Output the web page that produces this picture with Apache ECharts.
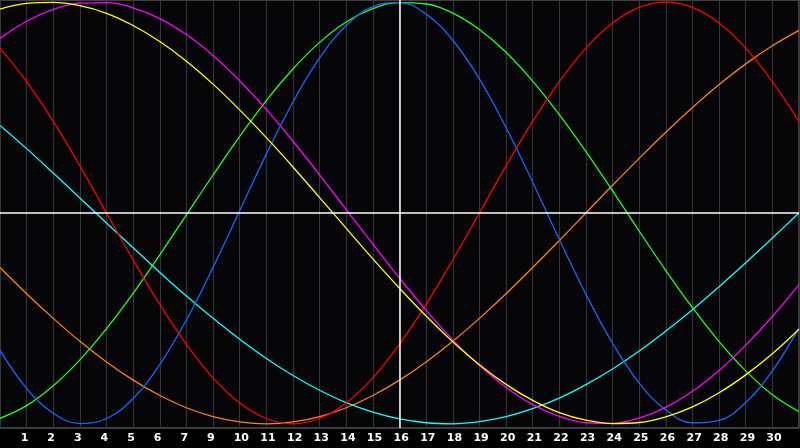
<!DOCTYPE html>
<html>
<head>
<meta charset="utf-8">
<script src="https://cdn.jsdelivr.net/npm/echarts@6/dist/echarts.min.js"></script>
<style>
html,body{margin:0;padding:0;background:#000;}
#c{width:800px;height:448px;}
</style>
</head>
<body>
<div id="c"></div>
<script>
// x positions (slots) where values were read
const slots = [0,1,2,3,4,5,6,7,8,9,10,11,12,13,14,15,16,17,18,19,20,21,22,23,24,25,26,27,28,29,30];
// tick labels (day numbers) shown at slots 1..29
const tickSlots = [1,2,3,4,5,6,7,8,9,10,11,12,13,14,15,16,17,18,19,20,21,22,23,24,25,26,27,28,29];
const tickLabels = ["1","2","3","4","5","6","7","9","10","11","12","13","14","15","16","17","18","19","20","21","22","23","24","25","26","27","28","29","30"];
const todaySlot = 15;

const red     = [78.2,62.3,43.4,22.3,0,-22.3,-43.4,-62.3,-78.2,-90.1,-97.5,-100,-97.5,-90.1,-78.2,-62.3,-43.4,-22.3,0,22.3,43.4,62.3,78.2,90.1,97.5,100,97.5,90.1,78.2,62.3,43.4];
const green   = [-97.4,-91.4,-82.0,-69.7,-54.9,-38.1,-19.9,-0.9,18.0,36.3,53.3,68.3,80.9,90.6,96.9,99.8,99.1,94.8,87.0,76.2,62.5,46.6,29.1,10.5,-8.6,-27.3,-44.9,-61.0,-74.9,-86.2,-94.2];
const blue    = [-65.2,-83.2,-95.0,-99.9,-97.5,-88.0,-71.9,-50.7,-25.8,1.1,27.9,52.6,73.5,88.9,97.9,99.8,94.3,81.9,63.6,40.5,14.6,-12.5,-38.6,-61.8,-80.7,-93.5,-99.6,-98.4,-89.9,-74.9,-54.5];
const cyan    = [41.5,30.5,18.9,7.1,-4.8,-16.5,-28.2,-39.4,-50.0,-59.9,-69.0,-77.1,-84.1,-90.0,-94.5,-97.7,-99.5,-100,-99.0,-96.6,-92.8,-87.8,-81.4,-74.0,-65.5,-56.0,-45.9,-35.0,-23.6,-11.9,0];
const magenta = [82.8,90.9,96.5,99.5,99.8,97.3,92.2,84.6,74.7,62.7,49.1,34.0,18.1,1.6,-14.8,-30.9,-46.2,-60.2,-72.4,-82.8,-90.9,-96.5,-99.5,-99.8,-97.3,-92.2,-84.6,-74.7,-62.7,-49.1,-34.0];
const yellow  = [96.7,99.4,99.9,98.3,94.7,88.9,81.3,72.0,61.1,48.9,35.7,21.8,7.3,-7.3,-21.8,-35.7,-48.9,-61.1,-72.0,-81.3,-88.9,-94.7,-98.3,-99.9,-99.4,-96.7,-92.0,-85.3,-76.8,-66.8,-55.2];
const orange  = [-25.9,-38.3,-50.0,-60.9,-70.7,-79.3,-86.6,-92.4,-96.6,-99.1,-100,-99.1,-96.6,-92.4,-86.6,-79.3,-70.7,-60.9,-50.0,-38.3,-25.9,-13.1,0,13.1,25.9,38.3,50.0,60.9,70.7,79.3,86.6];

const seriesDefs = [
  {name:'orange', data:orange, color:'#ff8010'},
  {name:'cyan', data:cyan, color:'#10ffff'},
  {name:'green', data:green, color:'#20ff20'},
  {name:'blue', data:blue, color:'#1068ff'},
  {name:'red', data:red, color:'#ff0000'},
  {name:'magenta', data:magenta, color:'#ff00ff'},
  {name:'yellow', data:yellow, color:'#ffff00'}
];

const chart = echarts.init(document.getElementById('c'), null, {renderer:'canvas'});
const series = seriesDefs.map(d => ({
  type:'line', name:d.name, xAxisIndex:0, yAxisIndex:0,
  data: slots.map((s,i)=>[s, d.data[i]]),
  smooth:0.4, showSymbol:false, symbol:'none',
  lineStyle:{color:d.color, width:1.3}, itemStyle:{color:d.color},
  silent:true, animation:false
}));
series.push({
  type:'line', xAxisIndex:0, yAxisIndex:0, data:[], silent:true, animation:false,
  markLine:{
    silent:true, symbol:'none', label:{show:false},
    lineStyle:{color:'#ffffff', width:1.5, type:'solid'},
    data:[{xAxis:todaySlot},{yAxis:0}]
  }
});

chart.setOption({
  backgroundColor:'#000000',
  animation:false,
  grid:{left:0, right:1, top:0, bottom:20, show:true, backgroundColor:'#060609', borderColor:'#7a7a7a', borderWidth:1, containLabel:false},
  xAxis:[
    {type:'value', min:0, max:30, interval:1,
     axisLine:{show:false}, axisTick:{show:false}, axisLabel:{show:false},
     splitLine:{show:true, lineStyle:{color:'#363636', width:1}}},
    {type:'value', min:0.225, max:30.225, position:'bottom',
     axisLine:{show:false}, axisTick:{show:false}, splitLine:{show:false},
     axisLabel:{show:true, customValues:tickSlots, color:'#ffffff', fontSize:11, fontWeight:'bold',
       fontFamily:'DejaVu Sans', align:'left', margin:5,
       formatter:function(v){const i=tickSlots.indexOf(Math.round(v)); return i>=0?tickLabels[i]:'';}}}
  ],
  yAxis:{type:'value', min:-102, max:101, axisLine:{show:false}, axisTick:{show:false}, axisLabel:{show:false}, splitLine:{show:false}},
  series:series
});
</script>
</body>
</html>
